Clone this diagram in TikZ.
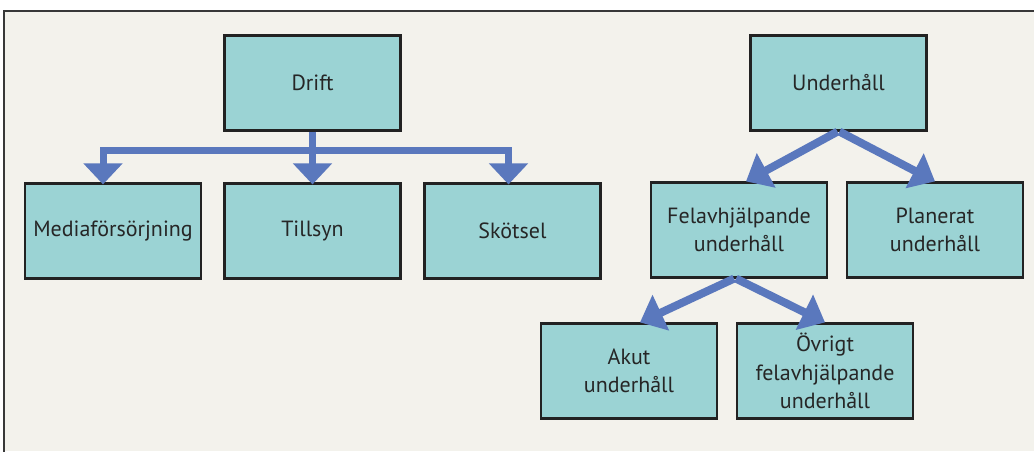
\documentclass[tikz,border=0pt]{standalone}
\usepackage{fontspec}
\setmainfont{PT Sans}
\usetikzlibrary{arrows.meta}
\definecolor{panel}{HTML}{F3F2EC}
\definecolor{boxfill}{HTML}{9BD3D4}
\definecolor{boxline}{HTML}{222222}
\definecolor{flow}{HTML}{5A78BD}
\definecolor{ink}{HTML}{262626}
\begin{document}
\begin{tikzpicture}[x=1pt,y=-1pt,
  box/.style={draw=boxline, line width=2.2pt, fill=boxfill, text=ink,
    minimum width=176pt, minimum height=95pt, align=center,
    font=\fontsize{22}{28.5}\selectfont, inner sep=2pt},
  conn/.style={draw=flow, line width=7pt, line join=miter,
    -{Triangle[width=38pt,length=21pt]}},
  bothconn/.style={draw=flow, line width=7pt, line join=miter,
    {Triangle[width=38pt,length=21pt]}-{Triangle[width=38pt,length=21pt]}},
  diag/.style={draw=flow, line width=8pt,
    -{Triangle[width=38pt,length=23pt]}}]
\useasboundingbox (0,0) rectangle (1034,451);
\fill[white] (0,0) rectangle (1034,451);
% panel with a rule on its top and left edges
\fill[panel] (4,11) rectangle (1034,451);
\draw[boxline!90, line width=1.3pt] (4,452) -- (4,11) -- (1035,11);

% left tree
\node[box] (drift)   at (312.5,83)  {Drift};
\node[box] (media)   at (113,231)   {Mediaförsörjning};
\node[box] (tillsyn) at (312.5,231) {Tillsyn};
\node[box] (skotsel) at (512.5,231) {Skötsel};
\coordinate (bar) at (312.5,150);

\draw[bothconn] ([xshift=-10pt,yshift=-2pt]media.north) |- (bar) -| ([xshift=-4pt,yshift=-2pt]skotsel.north);
\draw[conn] (drift.south) -- ([yshift=-2pt]tillsyn.north);

% right tree
\node[box] (under)  at (838.5,83) {Underhåll};
\node[box] (fel)    at (739,230)  {Felavhjälpande\\underhåll};
\node[box] (plan)   at (935,230)  {Planerat\\underhåll};
\node[box] (akut)   at (629,371)  {Akut\\underhåll};
\node[box] (ovrigt) at (825,371)  {Övrigt\\felavhjälpande\\underhåll};

\draw[diag] ([xshift=-1pt]under.south) -- ([xshift=7pt]fel.north);
\draw[diag] ([xshift=1pt]under.south) -- (plan.north);
\draw[diag] ([xshift=-5pt]fel.south) -- ([xshift=11pt]akut.north);
\draw[diag] ([xshift=-3pt]fel.south) -- (ovrigt.north);
\end{tikzpicture}
\end{document}
